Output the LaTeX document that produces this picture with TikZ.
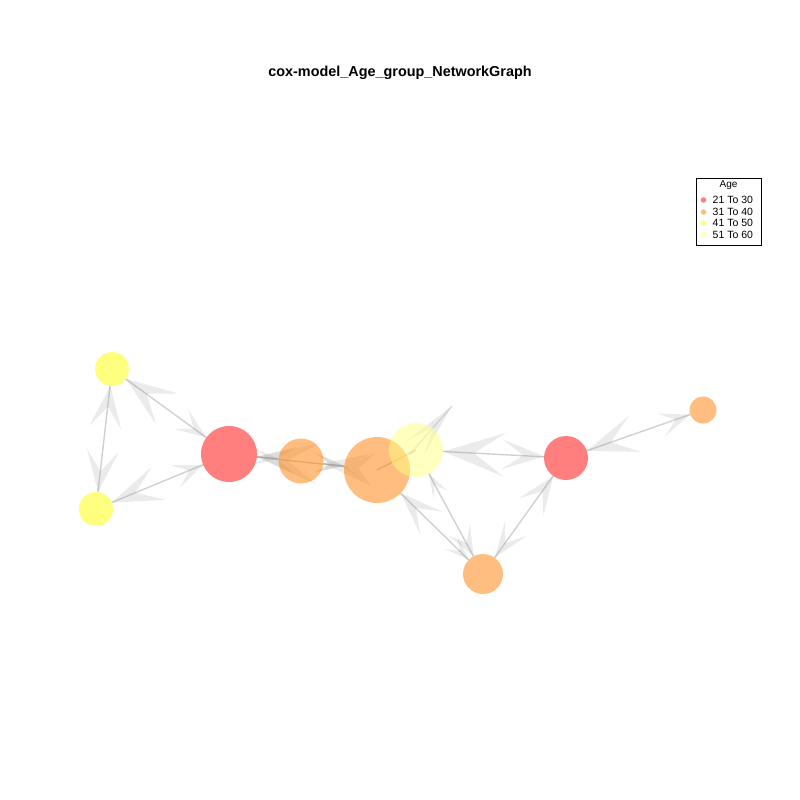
\documentclass[tikz,border=0pt]{standalone}
\usepackage{fontspec}
\setmainfont{Liberation Sans}
\usetikzlibrary{calc}
\definecolor{cR}{RGB}{255,0,0}
\definecolor{cO}{RGB}{255,127,0}
\definecolor{cY}{RGB}{255,255,0}
\definecolor{cL}{RGB}{255,255,128}
\tikzset{
  vtx/.style={circle, minimum size=#1, inner sep=0pt, outer sep=0pt},
  vfill/.style={fill=#1, fill opacity=0.5},
  edgeline/.style={draw=black!60, draw opacity=0.3, line width=1.4pt},
  arrowfill/.style={fill=black!40, fill opacity=0.19},
  legtext/.style={anchor=west, inner sep=0pt, font=\fontsize{10.5}{12}\selectfont},
}
% arrowhead at border of node #1, pointing away from node #2 towards #1
\newcommand\ahd[4]{%
  \path let \p1=($(#2.center)-(#1.center)$), \n1={atan2(\y1,\x1)} in (#1.\n1) coordinate (tip);
  \coordinate (ab) at ($(tip)!#3pt!(#2.center)$);
  \coordinate (an) at ($(tip)!0.5!(ab)$);
  \fill[arrowfill] (tip) -- ($(ab)!#4pt!90:(tip)$) -- (an) -- ($(ab)!#4pt!-90:(tip)$) -- cycle;
}
% arrowhead with explicit tip coordinate #1 and direction from coordinate #2
\newcommand\ahdxy[4]{%
  \coordinate (ab) at ($(#1)!#3pt!(#2)$);
  \coordinate (an) at ($(#1)!0.5!(ab)$);
  \fill[arrowfill] (#1) -- ($(ab)!#4pt!90:(#1)$) -- (an) -- ($(ab)!#4pt!-90:(#1)$) -- cycle;
}
\begin{document}
\begin{tikzpicture}[x=1pt,y=-1pt]
\useasboundingbox (0,0) rectangle (800,800);
\fill[white] (0,0) rectangle (800,800);

% title
\node[font=\fontsize{14.4}{17}\selectfont\bfseries] (title) at (400,72.5) {cox-model\_Age\_group\_NetworkGraph};

% vertices (placement only; filled later so that edges lie beneath)
\node[vtx=34pt] (Y1) at (112,369) {};
\node[vtx=34pt] (Y2) at (96,509) {};
\node[vtx=56pt] (R1) at (229,454) {};
\node[vtx=45pt] (O1) at (301,461) {};
\node[vtx=66pt] (O2) at (377,470) {};
\node[vtx=54pt] (LY) at (416,450) {};
\node[vtx=44pt] (R2) at (566,458) {};
\node[vtx=27pt] (O3) at (703,410) {};
\node[vtx=40pt] (O4) at (483,574) {};

% edges
\draw[edgeline] (Y1) -- (Y2);
\draw[edgeline] (Y1) -- (R1);
\draw[edgeline] (Y2) -- (R1);
\draw[edgeline] (R1) -- (O2);
\draw[edgeline] (R1) -- (O1);
\draw[edgeline] (O1) -- (O2);
\draw[edgeline] (O2.center) -- (LY.center);
\draw[edgeline] (LY) -- (R2);
\draw[edgeline] (R2) -- (O3);
\draw[edgeline] (R2) -- (O4);
\draw[edgeline] (LY) -- (O4);
\draw[edgeline] (O2) -- (O4);

% arrowheads
\ahd{Y1}{Y2}{42}{16}
\ahd{Y2}{Y1}{42}{16}
\ahd{Y1}{R1}{51}{19}
\ahd{R1}{Y1}{31}{12}
\ahd{Y2}{R1}{51}{18}
\ahd{R1}{Y2}{30}{12}
\ahd{R1}{O2}{62}{21}
\ahd{O2}{R1}{30}{10}
\ahd{R1}{O1}{40}{14}
\ahd{O1}{R1}{25}{8}
\ahd{O1}{O2}{45}{15}
\ahd{O2}{O1}{28}{9}
\ahd{LY}{R2}{62}{22}
\ahd{R2}{LY}{42}{15}
\ahd{R2}{O3}{51}{19}
\ahd{O3}{R2}{31}{12}
\ahd{R2}{O4}{38}{15}
\ahd{O4}{R2}{36}{13}
\ahd{LY}{O4}{24}{8}
\ahd{O4}{LY}{30}{12}
\ahd{O2}{O4}{43}{16}
\ahd{O4}{O2}{25}{9}
\coordinate (t1) at (343,467);
\coordinate (f1) at (374,470);
\ahdxy{t1}{f1}{31}{17}
\coordinate (t2) at (452,406);
\coordinate (f2) at (410,454);
\draw[edgeline, draw opacity=0.2] (f2) -- (t2);
\ahdxy{t2}{f2}{55}{11}

% vertex fills
\fill[vfill=cY] (Y1.center) circle (17pt);
\fill[vfill=cY] (Y2.center) circle (17pt);
\fill[vfill=cR] (R1.center) circle (28pt);
\fill[vfill=cO] (O1.center) circle (22.5pt);
\fill[vfill=cO] (O2.center) circle (33pt);
\fill[vfill=cL] (LY.center) circle (27pt);
\fill[vfill=cR] (R2.center) circle (22pt);
\fill[vfill=cO] (O3.center) circle (13.5pt);
\fill[vfill=cO] (O4.center) circle (20pt);

% legend
\node[draw=black, line width=0.6pt, minimum width=65pt, minimum height=67pt, anchor=north west, inner sep=0pt] (leg) at (696,177.5) {};
\node[inner sep=0pt, font=\fontsize{10}{11}\selectfont] (legt) at (728.5,185.5) {Age};
\fill[vfill=cR] (703.5,200) circle (2.8pt);
\fill[vfill=cO] (703.5,212) circle (2.8pt);
\fill[vfill=cY] (703.5,223) circle (2.8pt);
\fill[vfill=cL] (703.5,234.5) circle (2.8pt);
\node[legtext] (l1) at (712.5,200) {21 To 30};
\node[legtext] (l2) at (712.5,212) {31 To 40};
\node[legtext] (l3) at (712.5,223) {41 To 50};
\node[legtext] (l4) at (712.5,234.5) {51 To 60};
\end{tikzpicture}
\end{document}
